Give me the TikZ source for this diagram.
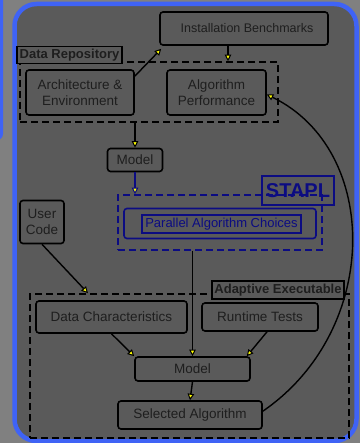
\documentclass[tikz,border=0pt]{standalone}
\usepackage{fontspec}
\setmainfont{Liberation Sans}
\usetikzlibrary{arrows.meta,calc}
\definecolor{bggray}{HTML}{808080}
\definecolor{panel}{HTML}{5A5A5A}
\definecolor{frameblue}{HTML}{3F63F5}
\definecolor{txt}{HTML}{1E1E1E}
\definecolor{navy}{HTML}{0C0C82}
\definecolor{tipyellow}{HTML}{FFFF00}
\tikzset{
  box/.style={draw=black, line width=1.6pt, rounded corners=3pt, inner sep=0pt,
    align=center, text=txt, font=\fontsize{13.5}{16}\selectfont},
  label box/.style={draw=black, line width=1.6pt, inner sep=0pt,
    font=\bfseries\fontsize{13}{15}\selectfont, text=txt},
  group box/.style={draw=black, line width=1.6pt, dash pattern=on 7pt off 4pt, inner sep=0pt},
  arr/.style={draw=black, line width=1.4pt, -{Triangle[length=6.5pt,width=6.5pt,fill=tipyellow,line width=1pt]}},
}
\begin{document}
\begin{tikzpicture}[x=1pt,y=-1pt]
\useasboundingbox (0,0) rectangle (360,443);
% background
\fill[bggray] (0,0) rectangle (360,443);
\fill[frameblue, rounded corners=6pt] (-20,-20) rectangle (3,140);
\filldraw[fill=panel, draw=frameblue, line width=4.5pt, rounded corners=22pt] (14.5,4) rectangle (356.5,441);

% Data repository group
\node[group box, minimum width=258pt, minimum height=60pt] (drbox) at (149,92) {};
\node[label box, minimum width=105pt, minimum height=17pt, fill=panel] (drlab) at (69.5,55) {Data Repository};
\node[box, minimum width=168pt, minimum height=33pt, font=\fontsize{12.5}{15}\selectfont] (ib) at (244,28.5) {\hspace*{6pt}Installation Benchmarks};
\node[box, minimum width=108pt, minimum height=45pt] (arch) at (80,92.5) {Architecture \&\\Environment};
\node[box, minimum width=99pt, minimum height=45pt] (ap) at (216.5,92.5) {Algorithm\\Performance};
\node[box, minimum width=55pt, minimum height=23pt] (m1) at (135,160) {Model};

% STAPL group
\node[group box, draw=navy, minimum width=204pt, minimum height=55pt] (staplbox) at (220,222.5) {};
\node[draw=navy, line width=1.6pt, inner sep=0pt, minimum width=72pt, minimum height=29pt,
  font=\bfseries\fontsize{20}{22}\selectfont, text=navy] (stapllab) at (298,190.5) {STAPL};
\node[draw=navy, line width=1.6pt, rounded corners=3pt, minimum width=192pt, minimum height=30pt, inner sep=0pt] (pac) at (220,223.5) {};
\node[draw=navy, line width=1.6pt, minimum width=159pt, minimum height=18pt, inner sep=0pt,
  text=navy, font=\fontsize{13}{15}\selectfont] (pactext) at (221.5,224) {Parallel Algorithm Choices};

\node[box, minimum width=44pt, minimum height=43pt] (user) at (42,222) {User\\Code};

% Adaptive executable group
\node[group box, minimum width=319pt, minimum height=144pt] (aebox) at (189.5,366) {};
\node[label box, minimum width=132pt, minimum height=18pt, fill=panel] (aelab) at (278,290) {Adaptive Executable};
\node[box, minimum width=151pt, minimum height=32pt] (dc) at (111.5,317) {Data Characteristics};
\node[box, minimum width=116pt, minimum height=28pt] (rt) at (260,317) {Runtime Tests};
\node[box, minimum width=115pt, minimum height=24pt] (m2) at (192.5,369) {Model};
\node[box, minimum width=144pt, minimum height=28pt] (sa) at (190,415) {Selected Algorithm};

% connectors
\coordinate (ibx) at (228,0);
\coordinate (ucend) at (88,0);
\draw[arr] ([yshift=-7pt]arch.north east) -- ([xshift=2pt,yshift=-3pt]ib.south west);
\draw[arr] (ibx |- ib.south) -- (ibx |- drbox.north);
\draw[arr] (m1.north |- drbox.south) -- (m1.north);
\draw[arr, draw=navy] (m1.south) -- (m1.south |- staplbox.north);
\draw[arr] (m2.north |- staplbox.south) -- (m2.north);
\draw[arr] (user.south) -- (ucend |- aebox.north);
\draw[arr] (dc.south) -- (m2.north west);
\draw[arr] ([xshift=7pt]rt.south) -- ([xshift=-4pt]m2.north east);
\draw[arr] (m2.south) -- (sa.north);
\draw[arr] ([yshift=-11pt]sa.north east) .. controls (381,330) and (381,150) .. ([yshift=-2pt]ap.east);
\end{tikzpicture}
\end{document}
